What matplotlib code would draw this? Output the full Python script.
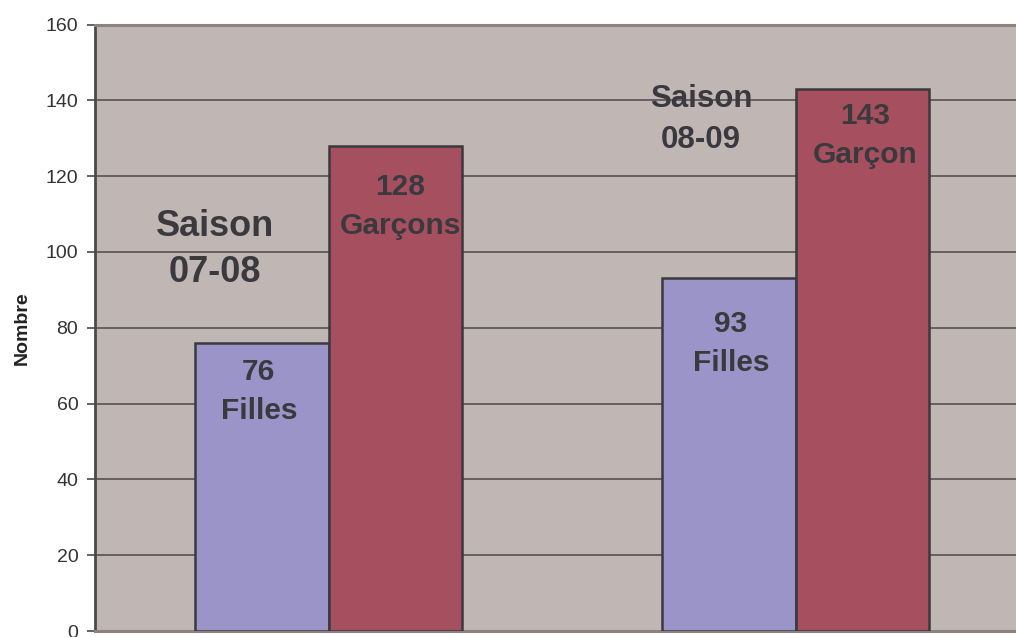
import matplotlib
matplotlib.use('Agg')
import matplotlib.pyplot as plt
import numpy as np

plt.rcParams['font.family'] = ['Liberation Sans', 'DejaVu Sans']

saisons = ['Saison\n07-08', 'Saison\n08-09']
filles = [76, 93]
garcons = [128, 143]
lab_filles = ['76\nFilles', '93\nFilles']
lab_garcons = ['128\nGarçons', '143\nGarçon']
yticks = [0, 20, 40, 60, 80, 100, 120, 140, 160]

c_bg = '#c0b7b5'
c_f = '#9b94c8'
c_g = '#a6505f'
c_edge = '#3a393e'
c_txt = '#3a393e'

fig = plt.figure(figsize=(10.16, 6.37), dpi=100)
# plot area runs a bit past the right edge, as in the source
ax = fig.add_axes([95/1016, 6/637, 934/1016, 606.5/637])
ax.set_facecolor(c_bg)

x = np.arange(len(saisons)) + 0.5
w = 1/3.5
ax.bar(x - w/2, filles, w, color=c_f, edgecolor=c_edge, linewidth=1.8, zorder=3)
ax.bar(x + w/2, garcons, w, color=c_g, edgecolor=c_edge, linewidth=1.8, zorder=3)

ax.set_xlim(0, 2)
ax.set_ylim(0, 160)
ax.set_yticks(yticks)
ax.set_xticks([])
for v in yticks[1:-1]:
    ax.axhline(v, color='#4d4849', lw=1.1, zorder=1)

ax.spines['right'].set_visible(False)
ax.spines['top'].set_color('#8c8280')
ax.spines['top'].set_linewidth(2.2)
ax.spines['bottom'].set_color('#8c8280')
ax.spines['bottom'].set_linewidth(2.2)
ax.spines['left'].set_color('#4d4849')
ax.spines['left'].set_linewidth(2)
ax.tick_params(axis='y', direction='out', length=6, width=1.2, color='#4d4849',
               labelsize=14, labelcolor='#333333', pad=6)

ax.set_ylabel('Nombre', fontsize=14, fontweight='bold', color='#222222', labelpad=11)

# annotations
ax.text(0.257, 100.7, saisons[0], ha='center', va='center', fontsize=26,
        fontweight='bold', color=c_txt, linespacing=1.4, zorder=4)
ax.text(1.298, 135, saisons[1], ha='center', va='center', fontsize=22.5,
        fontweight='bold', color=c_txt, linespacing=1.49, zorder=4)
fpos = [(0.351, 63.3), (1.362, 75.8)]
gpos = [(0.653, 112), (1.649, 130.8)]
for i in range(2):
    ax.text(fpos[i][0], fpos[i][1], lab_filles[i], ha='center', va='center',
            fontsize=21.5, fontweight='bold', color=c_txt, linespacing=1.5, zorder=4)
    ax.text(gpos[i][0], gpos[i][1], lab_garcons[i], ha='center', va='center',
            fontsize=21.5, fontweight='bold', color=c_txt, linespacing=1.5, zorder=4)

fig.savefig('out.png', dpi=100)
